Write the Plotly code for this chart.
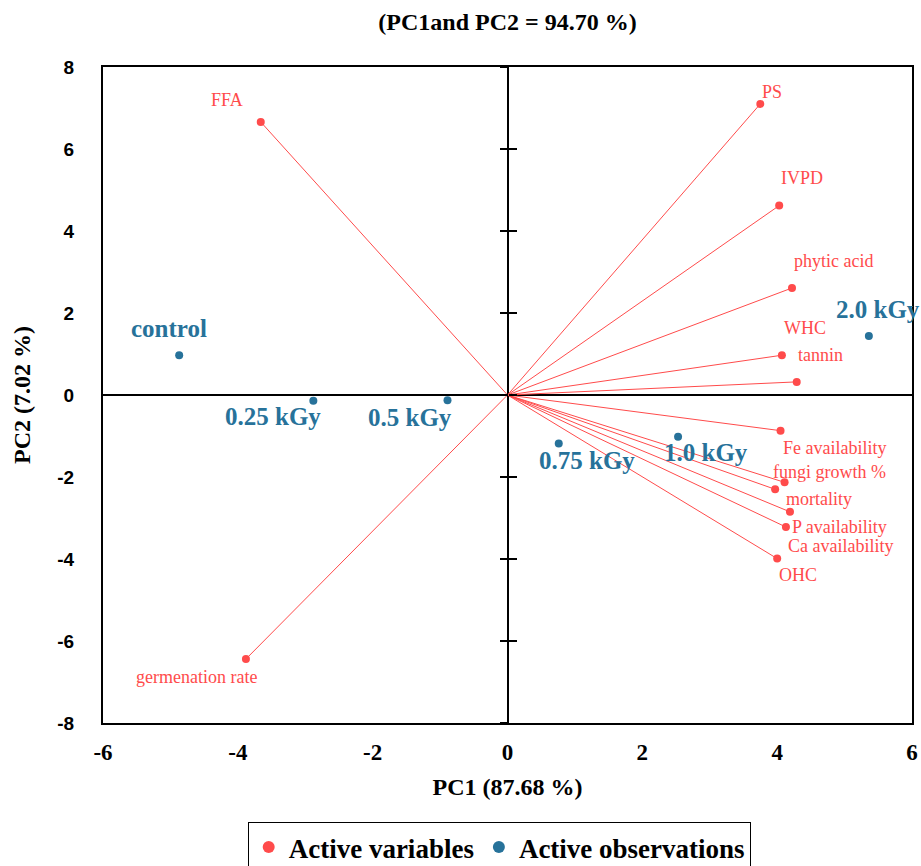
import plotly.graph_objects as go

# ---- data ----
var_names = ["FFA", "PS", "IVPD", "phytic acid", "WHC", "tannin", "Fe availability",
             "fungi growth %", "mortality", "P availability", "Ca availability", "OHC",
             "germenation rate"]
var_pc1 = [-3.66, 3.75, 4.03, 4.22, 4.07, 4.29, 4.05, 4.11, 3.97, 4.19, 4.13, 4.00, -3.88]
var_pc2 = [6.66, 7.10, 4.62, 2.61, 0.97, 0.32, -0.87, -2.13, -2.30, -2.85, -3.22, -3.99, -6.44]

obs_names = ["control", "0.25 kGy", "0.5 kGy", "0.75 kGy", "1.0 kGy", "2.0 kGy"]
obs_pc1 = [-4.87, -2.88, -0.89, 0.76, 2.53, 5.36]
obs_pc2 = [0.97, -0.14, -0.13, -1.18, -1.02, 1.44]

tick_vals_x = [-6, -4, -2, 0, 2, 4, 6]
tick_text_x = ["-6", "-4", "-2", "0", "2", "4", "6"]
tick_vals_y = [-8, -6, -4, -2, 0, 2, 4, 6, 8]
tick_text_y = ["-8", "-6", "-4", "-2", "0", "2", "4", "6", "8"]

# ---- style ----
RED = "#FF4B4B"
BLUE = "#27729A"
SERIF = "Liberation Serif"
SANS = "Liberation Sans"

var_label_shift = {
    "FFA": (-34, 22), "PS": (12, 12), "IVPD": (23, 28), "phytic acid": (41, 27),
    "WHC": (23, 27), "tannin": (24, 27), "Fe availability": (54, -17),
    "fungi growth %": (45, 10), "mortality": (44, -10), "P availability": (50, -15),
    "Ca availability": (55, -19), "OHC": (21, -16), "germenation rate": (-49, -18),
}
obs_label_shift = {
    "control": (-10, 27), "0.25 kGy": (-40, -16), "0.5 kGy": (-38, -17),
    "0.75 kGy": (28, -17), "1.0 kGy": (28, -16), "2.0 kGy": (9, 26),
}

fig = go.Figure()

# vectors from origin
lx, ly = [], []
for a, b in zip(var_pc1, var_pc2):
    lx += [0, a, None]
    ly += [0, b, None]
fig.add_trace(go.Scatter(x=lx, y=ly, mode="lines", line=dict(color=RED, width=1),
                         showlegend=False, hoverinfo="skip"))

fig.add_trace(go.Scatter(x=var_pc1, y=var_pc2, mode="markers", name="Active variables",
                         text=var_names, marker=dict(color=RED, size=8)))
fig.add_trace(go.Scatter(x=obs_pc1, y=obs_pc2, mode="markers", name="Active observations",
                         text=obs_names, marker=dict(color=BLUE, size=8)))

# dummy traces for centre-axis tick crosses
fig.add_trace(go.Scatter(x=[None], y=[None], yaxis="y2", showlegend=False, hoverinfo="skip"))
fig.add_trace(go.Scatter(x=[None], y=[None], yaxis="y3", showlegend=False, hoverinfo="skip"))

for n, a, b in zip(var_names, var_pc1, var_pc2):
    dx, dy = var_label_shift[n]
    fig.add_annotation(x=a, y=b, text=n, showarrow=False, xshift=dx, yshift=dy,
                       font=dict(family=SERIF, size=18, color=RED))
for n, a, b in zip(obs_names, obs_pc1, obs_pc2):
    dx, dy = obs_label_shift[n]
    fig.add_annotation(x=a, y=b, text="<b>" + n + "</b>", showarrow=False, xshift=dx, yshift=dy,
                       font=dict(family=SERIF, size=25, color=BLUE))

fig.update_layout(
    width=921, height=866,
    margin=dict(l=103, r=9, t=67, b=143),
    paper_bgcolor="white", plot_bgcolor="white",
    title=dict(text="<b>(PC1and PC2 = 94.70 %)</b>", x=0.551, xref="container", xanchor="center",
               y=1 - 22 / 866, yref="container", yanchor="middle",
               font=dict(family=SERIF, size=24, color="black")),
    xaxis=dict(range=[-6, 6], tickvals=tick_vals_x,
               ticktext=["<b>" + t + "</b>" for t in tick_text_x], showgrid=False,
               zeroline=True, zerolinecolor="black", zerolinewidth=2,
               showline=True, linecolor="black", linewidth=2, mirror=True,
               ticks="", ticklabelstandoff=7, automargin=False,
               tickfont=dict(family=SERIF, size=23, color="black"),
               title=dict(text="<b>PC1 (87.68 %)</b>", standoff=15,
                          font=dict(family=SERIF, size=24, color="black"))),
    yaxis=dict(range=[-8, 8], tickvals=tick_vals_y,
               ticktext=["<b>" + t + "</b>" for t in tick_text_y], showgrid=False,
               zeroline=True, zerolinecolor="black", zerolinewidth=2,
               showline=True, linecolor="black", linewidth=2, mirror=True,
               ticks="", ticklabelstandoff=23, automargin=False,
               tickfont=dict(family=SANS, size=19, color="black"),
               title=dict(text="<b>PC2 (7.02 %)</b>", standoff=20,
                          font=dict(family=SERIF, size=24, color="black"))),
    yaxis2=dict(range=[-8, 8], tickvals=tick_vals_y, overlaying="y", anchor="free",
                position=0.5, showgrid=False, zeroline=False, showline=False,
                ticks="outside", ticklen=8, tickwidth=2, tickcolor="black",
                showticklabels=False),
    yaxis3=dict(range=[-8, 8], tickvals=tick_vals_y, overlaying="y", anchor="free",
                position=0.5, showgrid=False, zeroline=False, showline=False,
                ticks="inside", ticklen=8, tickwidth=2, tickcolor="black",
                showticklabels=False),
    legend=dict(orientation="h", x=0.542, xref="container", xanchor="center",
                y=1 - 822 / 866, yref="container", yanchor="top",
                bordercolor="black", borderwidth=1, itemsizing="constant",
                font=dict(family=SERIF, size=27, color="black", weight="bold"),
                itemwidth=30, tracegroupgap=0),
    showlegend=True,
)

fig.write_html("out.html", config={"displayModeBar": False},
               post_script="document.body.style.margin='0';")
